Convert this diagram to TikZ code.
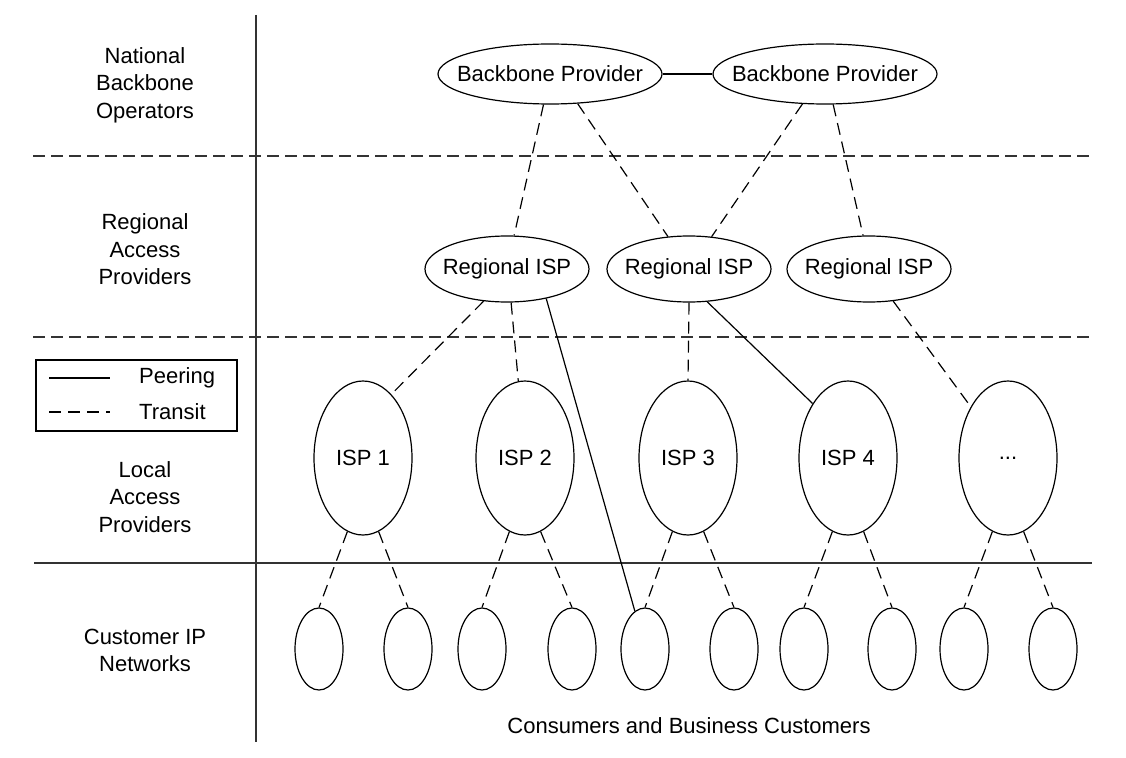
\documentclass[tikz,border=0pt]{standalone}
\usepackage{fontspec}
\setmainfont{Liberation Sans}
\usetikzlibrary{shapes.geometric}
\begin{document}
\begin{tikzpicture}[x=1pt,y=-1pt,
  every node/.style={font=\fontsize{22}{27.5}\selectfont},
  oval/.style={draw, ellipse, line width=1.2pt, inner sep=0pt},
  bp/.style={oval, minimum width=224pt, minimum height=60pt},
  reg/.style={oval, minimum width=164pt, minimum height=66pt},
  isp/.style={oval, minimum width=98pt, minimum height=154pt},
  cust/.style={oval, minimum width=48pt, minimum height=82pt},
  peer/.style={line width=1.2pt},
  transit/.style={line width=1.2pt, dash pattern=on 12pt off 7pt},
  divider/.style={line width=1.6pt, black!80},
  divdash/.style={divider, dash pattern=on 12pt off 6pt},
  lbl/.style={align=center}
]
\useasboundingbox (0,0) rectangle (1126,757);

% layer dividers
\draw[divider] (256,15) -- (256,742);
\draw[divdash] (33,156) -- (1092,156);
\draw[divdash] (33,337) -- (1092,337);
\draw[divider] (34,563) -- (1092,563);

% layer labels
\node[lbl] (lnat) at (145,85) {National\\Backbone\\Operators};
\node[lbl] (lreg) at (145,249.5) {Regional\\Access\\Providers};
\node[lbl] (lloc) at (145,497) {Local\\Access\\Providers};
\node[lbl] (lcus) at (145,650.5) {Customer IP\\Networks};

% legend
\node[draw, line width=1.2pt, minimum width=201pt, minimum height=71pt, inner sep=0pt] (legend) at (136.5,395.5) {};
\coordinate (pa) at (49,378);
\coordinate (pb) at (110,378);
\coordinate (ta) at (49,412);
\coordinate (tb) at (110,412);
\draw[peer] (pa) -- (pb);
\draw[transit] (ta) -- (tb);
\node[anchor=west, inner sep=0pt] (lpeer) at (139,378) {Peering};
\node[anchor=west, inner sep=0pt] (ltran) at (139,412) {Transit};

% backbone providers
\node[bp] (bp1) at (550,74) {\makebox[0pt]{Backbone Provider}};
\node[bp] (bp2) at (825,74) {\makebox[0pt]{Backbone Provider}};

% regional ISPs
\node[reg] (r1) at (507,269) {\makebox[0pt]{Regional ISP}};
\node[reg] (r2) at (689,269) {\makebox[0pt]{Regional ISP}};
\node[reg] (r3) at (869,269) {\makebox[0pt]{Regional ISP}};

% local ISPs
\node[isp] (i1) at (363,458) {\makebox[0pt]{ISP 1}};
\node[isp] (i2) at (525,458) {\makebox[0pt]{ISP 2}};
\node[isp] (i3) at (688,458) {\makebox[0pt]{ISP 3}};
\node[isp] (i4) at (848,458) {\makebox[0pt]{ISP 4}};
\node[isp] (i5) at (1008,458) {\makebox[0pt]{...}};

% customer networks
\node[cust] (c1) at (319,649) {};
\node[cust] (c2) at (408,649) {};
\node[cust] (c3) at (482,649) {};
\node[cust] (c4) at (572,649) {};
\node[cust] (c5) at (645,649) {};
\node[cust] (c6) at (734,649) {};
\node[cust] (c7) at (804,649) {};
\node[cust] (c8) at (892,649) {};
\node[cust] (c9) at (964,649) {};
\node[cust] (c10) at (1053,649) {};

\node (cons) at (689,726) {Consumers and Business Customers};

% peering links
\draw[peer] (bp1.east) -- (bp2.west);
\draw[peer] (r1.-37.5) -- (c5.105);
\draw[peer] (r2.-61) -- (i4.123);

% transit links
\draw[transit] (bp1.-102) -- (r1.78);
\draw[transit] (bp1.-47) -- (r2.123);
\draw[transit] (bp2.-127) -- (r2.55);
\draw[transit] (bp2.-75) -- (r3.100);

\draw[transit] (r1.-126) -- (i1.66);
\draw[transit] (r1.-83) -- (i2.95);
\draw[transit] (r2.south) -- (i3.north);
\draw[transit] (r3.-53) -- (i5.126);

\draw[transit] (i1.-102) -- (c1.north);
\draw[transit] (i1.-78) -- (c2.north);
\draw[transit] (i2.-102) -- (c3.north);
\draw[transit] (i2.-78) -- (c4.north);
\draw[transit] (i3.-102) -- (c5.north);
\draw[transit] (i3.-78) -- (c6.north);
\draw[transit] (i4.-102) -- (c7.north);
\draw[transit] (i4.-78) -- (c8.north);
\draw[transit] (i5.-102) -- (c9.north);
\draw[transit] (i5.-78) -- (c10.north);
\end{tikzpicture}
\end{document}
